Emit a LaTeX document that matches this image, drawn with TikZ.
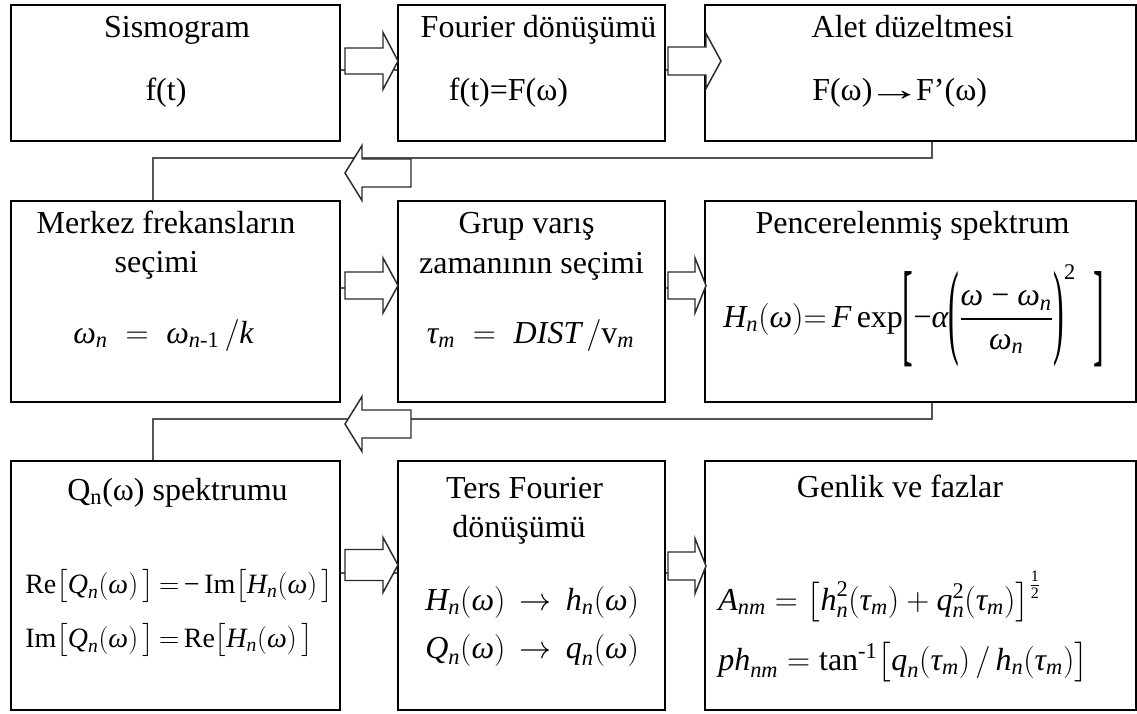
\RequirePackage{fix-cm}
\documentclass[tikz,border=0pt]{standalone}
\usepackage{amsmath}
\usepackage{graphicx}
\usepackage{fontspec}
\setmainfont{Liberation Serif}
\usetikzlibrary{calc}
\newcommand\mi[1]{\text{\itshape #1}}
\newcommand\mr[1]{\text{\upshape #1}}
\newcommand\tallopen[2]{\mathopen{\vcenter{\hbox{\scalebox{1}[#2]{#1}}}}}
\newcommand\tallclose[2]{\mathclose{\vcenter{\hbox{\scalebox{1}[#2]{#1}}}}}
\definecolor{conncol}{HTML}{555555}
\definecolor{arrcol}{HTML}{2A2A2A}
\newcommand\blockarr[6]{%
  \draw[barrow] (#1,#4-#5) -- (#2,#4-#5) -- (#2,#4-#6) -- (#3,#4) -- (#2,#4+#6) -- (#2,#4+#5) -- (#1,#4+#5) -- cycle;}
\begin{document}
\begin{tikzpicture}[x=0.75pt,y=-0.75pt,
  box/.style={draw=black, line width=1.2pt, fill=none, inner sep=0pt},
  conn/.style={draw=conncol, line width=1.1pt},
  barrow/.style={draw=arrcol, fill=white, line width=1.1pt, line join=miter},
  txt/.style={font=\fontsize{24}{28}\selectfont, inner sep=0pt, anchor=base},
  txtl/.style={txt, anchor=base west},
  eqsmall/.style={txtl, font=\fontsize{21}{25}\selectfont}]
\useasboundingbox (0,0) rectangle (1137,713);
% boxes
\node[box, minimum width={329*0.75pt}, minimum height={136*0.75pt}] (b1) at (175.5,73) {};
\node[box, minimum width={267*0.75pt}, minimum height={136*0.75pt}] (b2) at (531.5,73) {};
\node[box, minimum width={431*0.75pt}, minimum height={136*0.75pt}] (b3) at (920.5,73) {};
\node[box, minimum width={329*0.75pt}, minimum height={201*0.75pt}] (b4) at (175.5,301.5) {};
\node[box, minimum width={267*0.75pt}, minimum height={201*0.75pt}] (b5) at (531.5,301.5) {};
\node[box, minimum width={431*0.75pt}, minimum height={201*0.75pt}] (b6) at (920.5,301.5) {};
\node[box, minimum width={329*0.75pt}, minimum height={249*0.75pt}] (b7) at (175.5,585.5) {};
\node[box, minimum width={267*0.75pt}, minimum height={249*0.75pt}] (b8) at (531.5,585.5) {};
\node[box, minimum width={431*0.75pt}, minimum height={249*0.75pt}] (b9) at (920.5,585.5) {};
% connectors
\draw[conn] ($(b1.east)+(0,-3)$) -- ($(b2.west)+(0,-3)$);
\draw[conn] ($(b2.east)+(0,-3)$) -- ($(b3.west)+(0,-3)$);
\draw[conn] ($(b4.east)+(0,-13.5)$) -- ($(b5.west)+(0,-13.5)$);
\draw[conn] ($(b5.east)+(0,-13.5)$) -- ($(b6.west)+(0,-13.5)$);
\draw[conn] ($(b7.east)+(0,-12.5)$) -- ($(b8.west)+(0,-12.5)$);
\draw[conn] ($(b8.east)+(0,-12.5)$) -- ($(b9.west)+(0,-12.5)$);
\draw[conn] ($(b3.south)+(11.5,0)$) -- ++(0,16) -| ($(b4.north)+(-22.5,0)$);
\draw[conn] ($(b6.south)+(11.5,0)$) -- ++(0,16) -| ($(b7.north)+(-22.5,0)$);
% block arrows
\blockarr{345}{383}{398}{61}{13}{28.5}
\blockarr{668}{706}{721}{61}{14}{27.5}
\blockarr{345}{383}{398}{285.5}{13.5}{27.5}
\blockarr{668}{695}{706}{285.5}{13.5}{27.5}
\blockarr{345}{383}{398}{565}{15.5}{27.5}
\blockarr{668}{695}{706}{566}{14}{27.5}
\blockarr{411}{362}{345}{173}{14}{27.5}
\blockarr{411}{362}{345}{424}{14}{27.5}
% texts row 1
\node[txt] (t1a) at (177,38) {Sismogram};
\node[txt] (t1b) at (166,101) {f(t)};
\node[txt] (t2a) at (538.5,38) {Fourier dönüşümü};
\node[txt] (t2b) at (508.5,101) {f(t)=F(ω)};
\node[txt] (t3a) at (912.5,38) {Alet düzeltmesi};
\node[txtl] (t3b) at (812,101) {F(ω)\kern-4pt\scalebox{1.7}[1]{→}\kern-4pt F’(ω)};
% row 2
\node[txt] (t4a) at (166,233) {Merkez frekansların};
\node[txt] (t4b) at (156.5,272) {seçimi};
\node[txt] (t4c) at (163.5,343) {$\mi{ω}_{\mi{n}} \;=\; \mi{ω}_{\mi{n}\mr{-1}}\,/\mi{k}$};
\node[txt] (t5a) at (526.5,233) {Grup varış};
\node[txt] (t5b) at (531.5,273) {zamanının seçimi};
\node[txt] (t5c) at (530.5,343) {$\mi{τ}_{\mi{m}} \;=\; \mi{DIST}\,/\mr{v}_{\mi{m}}$};
\node[txt] (t6a) at (912.5,233) {Pencerelenmiş spektrum};
\node[txt, anchor=west] (t6b) at (723,316) {$\mi{H}_{\mi{n}}(\mi{ω})\mathord{=}\,\mi{F}\,\mr{exp}\tallopen{[}{3.6}\mr{−}\mi{α}\tallopen{(}{3.3}\dfrac{\mi{ω}\mr{ − }\mi{ω}_{\mi{n}}}{\mi{ω}_{\mi{n}}}\tallclose{)}{3.3}^{\mr{2}}\;\;\tallclose{]}{3.6}$};
% row 3
\node[txt] (t7a) at (177.5,500) {Q\textsubscript{n}(ω) spektrumu};
\node[eqsmall] (t7b) at (25,593) {$\mr{Re}\bigl[\mi{Q}_{\mi{n}}(\mi{ω})\,\bigr]\,\mathord{=}\,\mr{−\,Im}\bigl[\mi{H}_{\mi{n}}(\mi{ω})\,\bigr]$};
\node[eqsmall] (t7c) at (25,647) {$\mr{Im}\bigl[\mi{Q}_{\mi{n}}(\mi{ω})\,\bigr]\,\mathord{=}\,\mr{Re}\bigl[\mi{H}_{\mi{n}}(\mi{ω})\,\bigr]$};
\node[txt] (t8a) at (524.5,498) {Ters Fourier};
\node[txt] (t8b) at (519,537) {dönüşümü};
\node[txtl] (t8c) at (425,610) {$\mi{H}_{\mi{n}}(\mi{ω})\,\rightarrow\,\mi{h}_{\mi{n}}(\mi{ω})$};
\node[txtl] (t8d) at (425,658) {$\mi{Q}_{\mi{n}}(\mi{ω})\,\rightarrow\,\mi{q}_{\mi{n}}(\mi{ω})$};
\node[txt] (t9a) at (900,497) {Genlik ve fazlar};
\node[txtl] (t9b) at (718,610) {$\mi{A}_{\mi{nm}} = \bigl[\mi{h}^{\mr{2}}_{\mi{n}}(\mi{τ}_{\mi{m}})+\mi{q}^{\mr{2}}_{\mi{n}}(\mi{τ}_{\mi{m}})\bigr]^{\frac{\mr{1}}{\mr{2}}}$};
\node[txtl] (t9c) at (718,670) {$\mi{ph}_{\mi{nm}} = \mr{tan}^{\mr{-1}}\bigl[\mi{q}_{\mi{n}}(\mi{τ}_{\mi{m}})\,/\,\mi{h}_{\mi{n}}(\mi{τ}_{\mi{m}})\bigr]$};
\end{tikzpicture}
\end{document}
